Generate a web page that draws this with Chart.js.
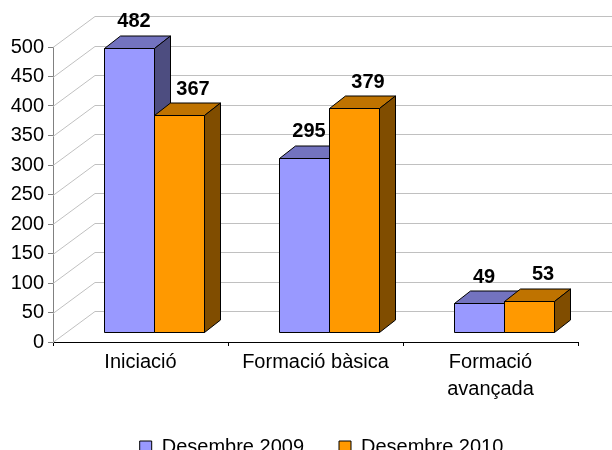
<!DOCTYPE html>
<html>
<head>
<meta charset="utf-8">
<script src="https://cdn.jsdelivr.net/npm/chart.js@4.4.0/dist/chart.umd.min.js"></script>
<style>
  html, body { margin: 0; padding: 0; background: #fff; }
</style>
</head>
<body>
<canvas id="chart" width="612" height="450"></canvas>
<script>
const categories = ['Iniciació', 'Formació bàsica', ['Formació', 'avançada']];
const seriesNames = ['Desembre 2009', 'Desembre 2010'];
const dec2009 = [482, 295, 49];
const dec2010 = [367, 379, 53];
const yMax = 500;
const yStep = 50;

const FONT = '"Liberation Sans", Arial, sans-serif';
// 3d look: back wall offset, bar plane offset, bar depth
const WALL = { dx: 42, dy: -31 };
const SHIFT = { dx: 13.5, dy: -10 };
const DEPTH = { dx: 16, dy: -12.5 };
const faces = [
  { front: '#9999FF', top: '#7373BF', side: '#4D4D80', labelDx: 5 },
  { front: '#FF9900', top: '#BF7300', side: '#804D00', labelDx: 14 }
];

const box3d = {
  id: 'box3d',
  afterLayout(chart) {
    // legend sits a bit right of centre in the original
    chart.legend.left += 6;
    chart.legend.right += 6;
  },
  beforeDatasetsDraw(chart) {
    const ctx = chart.ctx;
    const y = chart.scales.y;
    const left = chart.chartArea.left, right = chart.chartArea.right;
    ctx.save();
    ctx.strokeStyle = '#c0c0c0';
    ctx.lineWidth = 1;
    y.ticks.forEach(t => {
      const py = Math.round(y.getPixelForValue(t.value)) + 0.5;
      ctx.beginPath();
      ctx.moveTo(left, py);
      ctx.lineTo(left + WALL.dx, py + WALL.dy);
      ctx.lineTo(right + WALL.dx, py + WALL.dy);
      ctx.stroke();
    });
    ctx.restore();
  },
  beforeDatasetDraw() {
    return false; // bars are drawn as boxes below
  },
  afterDatasetsDraw(chart) {
    const ctx = chart.ctx;
    ctx.save();
    ctx.lineWidth = 1;
    ctx.strokeStyle = '#000';
    categories.forEach((c, i) => {
      chart.data.datasets.forEach((ds, d) => {
        const bar = chart.getDatasetMeta(d).data[i];
        const p = bar.getProps(['x', 'y', 'base', 'width'], true);
        const f = faces[d];
        const x0 = Math.round(p.x - p.width / 2 + SHIFT.dx) + 0.5;
        const x1 = Math.round(p.x + p.width / 2 + SHIFT.dx) + 0.5;
        const yt = Math.round(p.y + SHIFT.dy) + 0.5;
        const yb = Math.round(p.base + SHIFT.dy) + 0.5;
        // front
        ctx.fillStyle = f.front;
        ctx.beginPath();
        ctx.rect(x0, yt, x1 - x0, yb - yt);
        ctx.fill();
        ctx.stroke();
        // top
        ctx.fillStyle = f.top;
        ctx.beginPath();
        ctx.moveTo(x0, yt);
        ctx.lineTo(x0 + DEPTH.dx, yt + DEPTH.dy);
        ctx.lineTo(x1 + DEPTH.dx, yt + DEPTH.dy);
        ctx.lineTo(x1, yt);
        ctx.closePath();
        ctx.fill();
        ctx.stroke();
        // side
        ctx.fillStyle = f.side;
        ctx.beginPath();
        ctx.moveTo(x1, yt);
        ctx.lineTo(x1 + DEPTH.dx, yt + DEPTH.dy);
        ctx.lineTo(x1 + DEPTH.dx, yb + DEPTH.dy);
        ctx.lineTo(x1, yb);
        ctx.closePath();
        ctx.fill();
        ctx.stroke();
      });
    });
    // value labels
    ctx.fillStyle = '#000';
    ctx.font = 'bold 20px ' + FONT;
    ctx.textAlign = 'center';
    ctx.textBaseline = 'middle';
    chart.data.datasets.forEach((ds, d) => {
      chart.getDatasetMeta(d).data.forEach((bar, i) => {
        const p = bar.getProps(['x', 'y'], true);
        ctx.fillText(String(ds.data[i]), p.x + SHIFT.dx + faces[d].labelDx, p.y + SHIFT.dy - 26);
      });
    });
    ctx.restore();
  }
};

new Chart(document.getElementById('chart'), {
  type: 'bar',
  data: {
    labels: categories,
    datasets: [
      { label: seriesNames[0], data: dec2009, backgroundColor: faces[0].front, borderColor: '#000', borderWidth: 1 },
      { label: seriesNames[1], data: dec2010, backgroundColor: faces[1].front, borderColor: '#000', borderWidth: 1 }
    ]
  },
  options: {
    responsive: false,
    animation: false,
    categoryPercentage: 100 / 175,
    barPercentage: 1,
    layout: { padding: { left: 0, right: 34, top: 47, bottom: -17 } },
    scales: {
      x: {
        afterFit: s => { s.height = 60; },
        grid: { drawOnChartArea: false, tickLength: 4, tickColor: '#000' },
        border: { color: '#000' },
        ticks: { color: '#000', padding: 3, font: { family: FONT, size: 20, lineHeight: 1.35 }, maxRotation: 0, autoSkip: false }
      },
      y: {
        min: 0, max: yMax,
        afterFit: s => { s.width = 53; },
        grid: { drawOnChartArea: false, tickLength: 5, tickColor: '#808080' },
        border: { color: '#808080' },
        ticks: { stepSize: yStep, color: '#000', padding: 4, font: { family: FONT, size: 20 } }
      }
    },
    plugins: {
      legend: {
        position: 'bottom',
        fullSize: false,
        labels: { boxWidth: 12, boxHeight: 12, padding: 35, color: '#000', font: { family: FONT, size: 20 } }
      },
      tooltip: { enabled: false }
    }
  },
  plugins: [box3d]
});
</script>
</body>
</html>
